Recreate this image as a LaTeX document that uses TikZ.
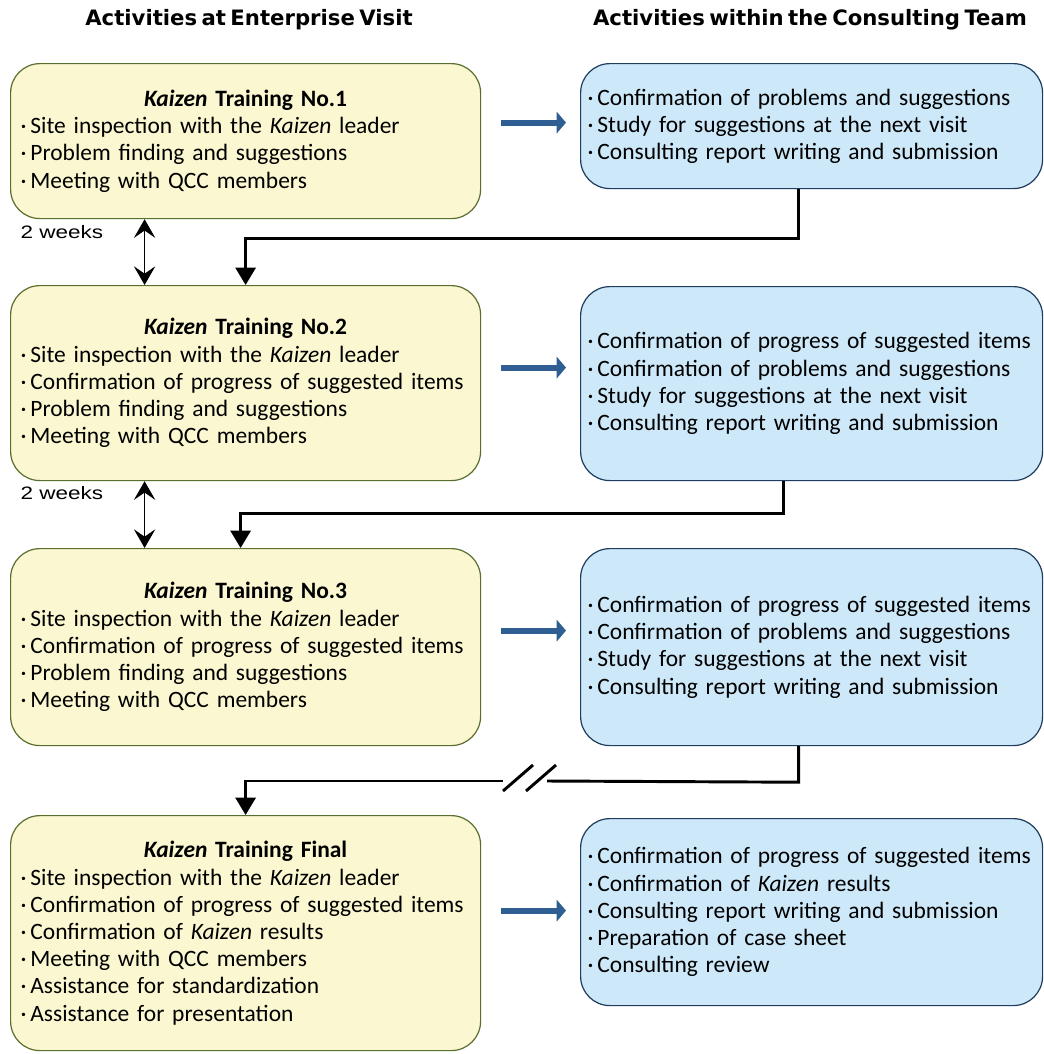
\documentclass[tikz,border=0pt]{standalone}
\usepackage{fontspec}
\usepackage{graphicx}
\setmainfont{Carlito}[WordSpace=0.65]
\newfontfamily\labelfont{Liberation Sans}
\newfontfamily\headfont{DejaVu Sans}[WordSpace=0.6]
\usetikzlibrary{calc,arrows.meta}
\definecolor{visitfill}{HTML}{FBF7D0}
\definecolor{visitdraw}{HTML}{5A6E2E}
\definecolor{teamfill}{HTML}{CDE8F8}
\definecolor{teamdraw}{HTML}{1F3B5E}
\definecolor{flowblue}{HTML}{2E5E92}
\setlength{\parindent}{0pt}
\newcommand{\itm}{\textperiodcentered\,}
\newcommand{\kz}{\textit{Kaizen}}
\begin{document}
\begin{tikzpicture}[x=0.75pt,y=-0.75pt,
  boxtext/.style={font=\fontsize{17.6}{20.4}\selectfont},
  visitbox/.style={boxtext,draw=visitdraw,fill=visitfill,line width=0.9pt,
    rounded corners=22pt,rectangle,anchor=north west,
    minimum width=352.5pt,text width=337.5pt,inner sep=7.5pt},
  teambox/.style={boxtext,draw=teamdraw,fill=teamfill,line width=0.9pt,
    rounded corners=22pt,rectangle,anchor=north west,
    minimum width=346.5pt,text width=336pt,inner xsep=5.25pt,inner ysep=7.5pt},
  header/.style={font=\headfont\fontsize{15.9}{19}\selectfont\bfseries},
  weeks/.style={font=\labelfont\fontsize{13.5}{16}\selectfont},
  bluearrow/.style={flowblue,line width=4.5pt,-{Triangle[length=7pt,width=16pt]}},
  elbow/.style={black,line width=2.2pt},
  elbowarrow/.style={elbow,-{Triangle[length=13pt,width=15pt]}},
  period/.style={black,line width=0.8pt,
    {Stealth[length=14pt,width=16pt,inset=5.5pt]}-{Stealth[length=14pt,width=16pt,inset=5.5pt]}}
]
\useasboundingbox (0,0) rectangle (1044,1054);

% column headings
\node[header] (h1) at (249,20) {Activities at Enterprise Visit};
\node[header] (h2) at (810,20) {Activities within the Consulting Team};

% visits at the enterprise
\node[visitbox,minimum height=116.25pt] (L1) at (10,63) {%
  {\centering\textbf{\textit{Kaizen} Training No.1}\par}\raggedright
  \itm Site inspection with the \kz{} leader\par
  \itm Problem finding and suggestions\par
  \itm Meeting with QCC members\par};
\node[visitbox,minimum height=146.25pt] (L2) at (10,285) {%
  {\centering\textbf{\textit{Kaizen} Training No.2}\par}\raggedright
  \itm Site inspection with the \kz{} leader\par
  \itm Confirmation of progress of suggested items\par
  \itm Problem finding and suggestions\par
  \itm Meeting with QCC members\par};
\node[visitbox,minimum height=147.75pt] (L3) at (10,548) {%
  {\centering\textbf{\textit{Kaizen} Training No.3}\par}\raggedright
  \itm Site inspection with the \kz{} leader\par
  \itm Confirmation of progress of suggested items\par
  \itm Problem finding and suggestions\par
  \itm Meeting with QCC members\par};
\node[visitbox,minimum height=176.25pt] (L4) at (10,815) {%
  {\centering\textbf{\textit{Kaizen} Training Final}\par}\raggedright
  \itm Site inspection with the \kz{} leader\par
  \itm Confirmation of progress of suggested items\par
  \itm Confirmation of \kz{} results\par
  \itm Meeting with QCC members\par
  \itm Assistance for standardization\par
  \itm Assistance for presentation\par};

% work inside the consulting team
\node[teambox,minimum height=93.75pt] (R1) at (580,63) {\raggedright
  \itm Confirmation of problems and suggestions\par
  \itm Study for suggestions at the next visit\par
  \itm Consulting report writing and submission\par};
\node[teambox,minimum height=145.5pt] (R2) at (580,286) {\raggedright
  \itm Confirmation of progress of suggested items\par
  \itm Confirmation of problems and suggestions\par
  \itm Study for suggestions at the next visit\par
  \itm Consulting report writing and submission\par};
\node[teambox,minimum height=147.75pt] (R3) at (580,548) {\raggedright
  \itm Confirmation of progress of suggested items\par
  \itm Confirmation of problems and suggestions\par
  \itm Study for suggestions at the next visit\par
  \itm Consulting report writing and submission\par};
\node[teambox,minimum height=140.25pt] (R4) at (580,818) {\raggedright
  \itm Confirmation of progress of suggested items\par
  \itm Confirmation of \kz{} results\par
  \itm Consulting report writing and submission\par
  \itm Preparation of case sheet\par
  \itm Consulting review\par};

% hand-over from each visit to the team
\draw[bluearrow] ($(L1.east)+(20,-18.5)$) -- ($(R1.west)+(-14,-3.5)$);
\draw[bluearrow] ($(L2.east)+(20,-15.5)$) -- ($(R2.west)+(-14,-16)$);
\draw[bluearrow] ($(L3.east)+(20,-16.5)$) -- ($(R3.west)+(-14,-16.5)$);
\draw[bluearrow] ($(L4.east)+(20,-22.5)$) -- ($(R4.west)+(-14,-1.5)$);

% interval between visits
\draw[period] ($(L1.south)+(-101,0)$) -- ($(L2.north)+(-101,0)$);
\draw[period] ($(L2.south)+(-101,0)$) -- ($(L3.north)+(-101,0)$);
\node[weeks] (w1) at (62,232) {\scalebox{1.25}[1]{2 weeks}};
\node[weeks] (w2) at (62,493) {\scalebox{1.25}[1]{2 weeks}};

% feedback to the next visit
\draw[elbowarrow] ($(R1.south)+(-13,0)$) -- ++(0,49) -| (L2.north);
\draw[elbowarrow] ($(R2.south)+(-28,0)$) -- ++(0,32) -| ($(L3.north)+(-5,0)$);
\coordinate (brkR) at (547,781);
\coordinate (brkL) at (503,781);
\draw[elbow] ($(R3.south)+(-13,0)$) -- ++(0,36) -- (brkR);
\draw[elbowarrow] (brkL) -| (L4.north);
% omission mark
\draw[elbow] (503,791) -- (533,765);
\draw[elbow] (526,791) -- (556,765);
\end{tikzpicture}
\end{document}
